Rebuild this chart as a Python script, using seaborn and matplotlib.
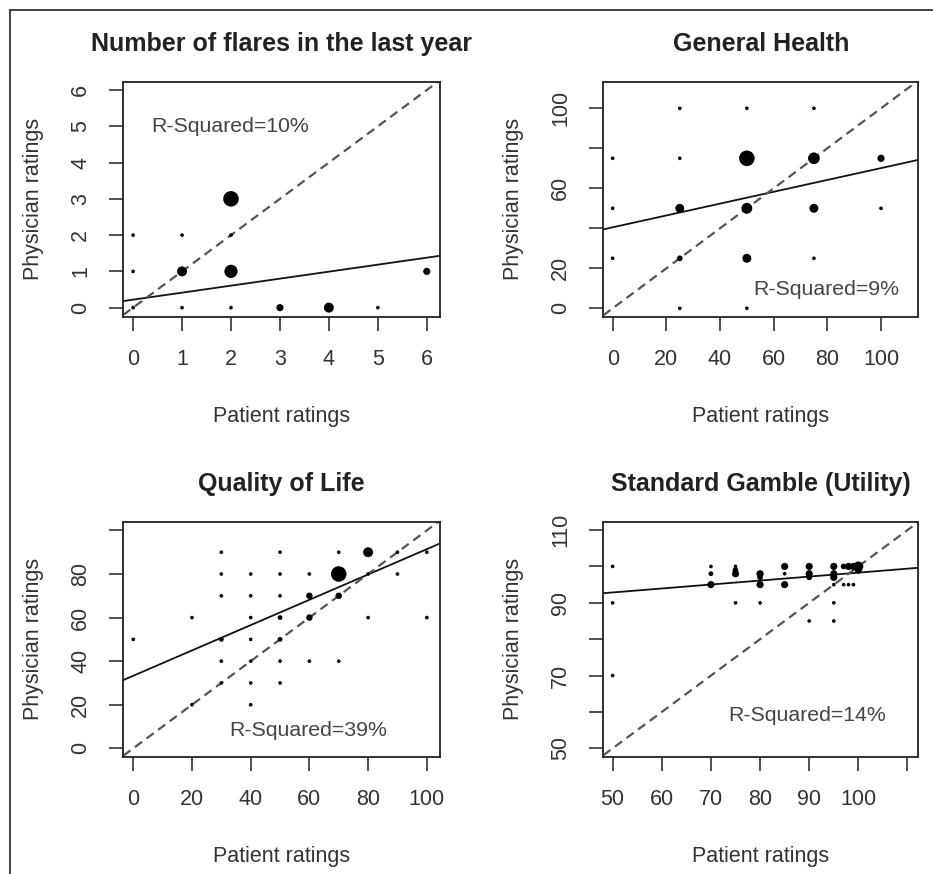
import numpy as np
import pandas as pd
import seaborn as sns
import matplotlib.pyplot as plt
from matplotlib.lines import Line2D

# --- data: (patient x, physician y, count n) ---
flare_x = [0, 0, 0, 1, 1, 1, 2, 2, 2, 2, 3, 4, 5, 6]
flare_y = [2, 1, 0, 2, 1, 0, 3, 2, 1, 0, 0, 0, 0, 1]
flare_n = [1, 1, 1, 1, 10, 1, 25, 1, 18, 1, 5, 10, 1, 5]

health_x = [0, 0, 0, 25, 25, 25, 25, 25, 50, 50, 50, 50, 50, 75, 75, 75, 75, 100, 100]
health_y = [75, 50, 25, 100, 75, 50, 25, 0, 100, 75, 50, 25, 0, 100, 75, 50, 25, 75, 50]
health_n = [1, 1, 1, 1, 1, 8, 3, 1, 1, 28, 12, 8, 1, 1, 14, 8, 1, 5, 1]

qol_x = [0, 20, 20, 30, 30, 30, 30, 30, 30, 40, 40, 40, 40, 40, 40, 40,
         50, 50, 50, 50, 50, 50, 50, 60, 60, 60, 60, 70, 70, 70, 70,
         80, 80, 80, 90, 90, 100, 100]
qol_y = [50, 60, 20, 90, 80, 70, 50, 40, 30, 80, 70, 60, 50, 40, 30, 20,
         90, 80, 70, 60, 50, 40, 30, 80, 70, 60, 40, 90, 80, 70, 40,
         90, 80, 60, 90, 80, 90, 60]
qol_n = [1, 1, 1, 1, 1, 1, 2, 1, 1, 1, 1, 1, 1, 1, 1, 1,
         1, 1, 1, 2, 2, 1, 1, 1, 4, 4, 1, 1, 28, 4, 1,
         10, 1, 1, 1, 1, 1, 1]

sg_x = [50, 50, 50, 70, 70, 70, 75, 75, 75, 75, 80, 80, 80, 80,
        85, 85, 85, 90, 90, 90, 90, 95, 95, 95, 95, 95, 95,
        97, 97, 98, 98, 99, 99, 100, 100]
sg_y = [100, 90, 70, 100, 98, 95, 100, 99, 98, 90, 98, 97, 95, 90,
        100, 98, 95, 100, 98, 97, 85, 100, 98, 97, 95, 90, 85,
        100, 95, 100, 95, 100, 95, 100, 99]
sg_n = [1, 1, 1, 1, 2, 5, 1, 3, 5, 1, 5, 3, 5, 1,
        5, 1, 5, 5, 5, 3, 1, 5, 5, 5, 1, 1, 1,
        3, 1, 5, 1, 5, 1, 10, 5]

titles = ["Number of flares in the last year", "General Health",
          "Quality of Life", "Standard Gamble (Utility)"]
r2_labels = ["R-Squared=10%", "R-Squared=9%", "R-Squared=39%", "R-Squared=14%"]
# fitted lines (intercept, slope)
fits = [(0.22, 0.193), (40.5, 0.296), (33.3, 0.581), (87.4, 0.109)]

sns.set_theme(style="white")
plt.rcParams['font.family'] = ['Liberation Sans', 'DejaVu Sans']
plt.rcParams['text.color'] = '#222222'

fig = plt.figure(figsize=(9.33, 8.74), dpi=100)
W, H = 933, 874


def add_ax(l, t, r, b):
    return fig.add_axes([l / W, 1 - b / H, (r - l) / W, (b - t) / H])


axes = [add_ax(123.3, 81.7, 440, 316.7), add_ax(603.3, 81.7, 918.3, 316.7),
        add_ax(123.3, 521.7, 440, 756.7), add_ax(603.3, 521.7, 918.3, 756.7)]

panels = [
    dict(x=flare_x, y=flare_y, n=flare_n, xlim=(-0.2, 6.27), ylim=(-0.25, 6.23),
         xt=range(0, 7), xl=[str(v) for v in range(0, 7)],
         yt=range(0, 7), yl=[str(v) for v in range(0, 7)], txt=(1.98, 4.99)),
    dict(x=health_x, y=health_y, n=health_n, xlim=(-3.5, 113.9), ylim=(-4.2, 113.3),
         xt=range(0, 101, 20), xl=["0", "20", "40", "60", "80", "100"],
         yt=range(0, 101, 20), yl=["0", "20", "", "60", "", "100"], txt=(79.5, 9.2)),
    dict(x=qol_x, y=qol_y, n=qol_n, xlim=(-3.4, 104.5), ylim=(-3.85, 104),
         xt=range(0, 101, 20), xl=["0", "20", "40", "60", "80", "100"],
         yt=range(0, 101, 20), yl=["0", "20", "40", "60", "80", ""], txt=(59.5, 8.4)),
    dict(x=sg_x, y=sg_y, n=sg_n, xlim=(48.1, 112.2), ylim=(47.7, 112.3),
         xt=range(50, 111, 10), xl=["50", "60", "70", "80", "90", "100", ""],
         yt=range(50, 111, 10), yl=["50", "", "70", "", "90", "", "110"], txt=(89.5, 59.1)),
]

for ax, p, title, r2, (b0, b1) in zip(axes, panels, titles, r2_labels, fits):
    df = pd.DataFrame({"x": p["x"], "y": p["y"], "n": p["n"]})
    sns.scatterplot(data=df, x="x", y="y", size="n", sizes=(7, 125),
                    size_norm=(1, 25), color="black", edgecolor="none",
                    legend=False, ax=ax, zorder=3)
    xs = np.array(p["xlim"])
    ax.plot(xs, b0 + b1 * xs, color="#111111", lw=1.3, zorder=2)
    ax.plot(xs, xs, color="#555555", lw=1.6, ls=(0, (4, 2.5)), zorder=2)
    ax.set_xlim(p["xlim"])
    ax.set_ylim(p["ylim"])
    ax.set_xticks(list(p["xt"]))
    ax.set_xticklabels(p["xl"])
    ax.set_yticks(list(p["yt"]))
    ax.set_yticklabels(p["yl"], rotation=90, va="center")
    ax.tick_params(direction="out", length=10, width=1.1, color="#222222",
                   labelsize=15.5, labelcolor="#333333", bottom=True, left=True)
    ax.tick_params(axis="x", pad=13)
    ax.tick_params(axis="y", pad=13)
    for s in ax.spines.values():
        s.set_color("#222222")
        s.set_linewidth(1.3)
    ax.set_title(title, fontsize=18, fontweight="bold", pad=22)
    ax.set_xlabel("Patient ratings", fontsize=15.5, labelpad=26, color="#333333")
    ax.set_ylabel("Physician ratings", fontsize=15.5, labelpad=19, color="#333333")
    ax.text(p["txt"][0], p["txt"][1], r2, fontsize=15.3, ha="center", va="center",
            color="#444444")

# outer frame (top and left edges only)
fig.add_artist(Line2D([10 / W, 1], [1 - 10 / H, 1 - 10 / H], color="#222222", lw=1.2))
fig.add_artist(Line2D([10 / W, 10 / W], [0, 1 - 10 / H], color="#222222", lw=1.2))

fig.savefig("out.png", dpi=100, facecolor="white")
